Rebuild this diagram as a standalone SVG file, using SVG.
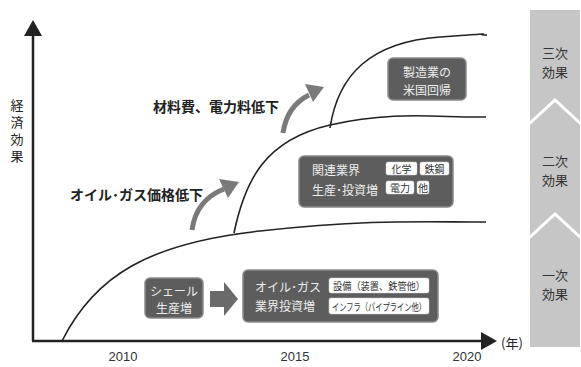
<svg xmlns="http://www.w3.org/2000/svg" width="581" height="367" viewBox="0 0 581 367">
<defs>
<style>
text{font-family:"Noto Sans CJK JP","Noto Sans",sans-serif;}
.lbl{font-size:14px;font-weight:bold;fill:#222;}
.yr{font-family:"Liberation Sans",Arial,sans-serif;font-size:13px;fill:#333;}
.box{fill:#5d5d5d;stroke:#8a8a8a;stroke-width:1.5;}
.bt{font-size:12px;fill:#eeeeee;dominant-baseline:central;}
.wb{fill:#ffffff;stroke:#cfcfcf;stroke-width:0.5;}
.wt{font-size:10px;fill:#333;dominant-baseline:central;text-anchor:middle;}
.curve{fill:none;stroke:#222;stroke-width:1.6;}
.garrow{fill:none;stroke:#7a7a7a;stroke-width:5;}
.side{fill:#c6c6c6;}
.st{font-size:13px;fill:#333;text-anchor:middle;dominant-baseline:central;}
</style>
</defs>
<rect width="581" height="367" fill="#ffffff"/>

<g id="sidebar">
<polygon class="side" points="530,10 580,10 580,121 555,98 530,121"/>
<polygon class="side" points="530,125 555,102 580,125 580,235 555,212 530,235"/>
<polygon class="side" points="530,239 555,216 580,239 580,347 530,347"/>
<text class="st" x="555" y="52">三次</text>
<text class="st" x="555" y="71">効果</text>
<text class="st" x="555" y="160">二次</text>
<text class="st" x="555" y="179">効果</text>
<text class="st" x="555" y="274">一次</text>
<text class="st" x="555" y="293">効果</text>
</g>

<g id="axes">
<line x1="33" y1="34" x2="33" y2="341" stroke="#222" stroke-width="2.5"/>
<polygon points="33,20 24,36 42,36" fill="#222"/>
<line x1="32" y1="341" x2="484" y2="341" stroke="#222" stroke-width="2.5"/>
<polygon points="497,341 481,332 481,350" fill="#222"/>
<text x="17" y="99" style="font-size:13px;fill:#222;writing-mode:vertical-rl;letter-spacing:4px">経済効果</text>
<text class="yr" x="123" y="361" text-anchor="middle">2010</text>
<text class="yr" x="295" y="361" text-anchor="middle">2015</text>
<text class="yr" x="467" y="361" text-anchor="middle">2020</text>
<text x="512" y="342" text-anchor="middle" dominant-baseline="central" style="font-size:13px;fill:#222">(年)</text>
</g>

<g id="connectors">
<path class="curve" d="M62,341 C95,275 150,243 260,231 S420,222 486,222"/>
<path class="curve" d="M234,233 C245,180 265,140 330,125 S440,118 486,117"/>
<path class="curve" d="M330,128 C338,75 370,42 440,37 S470,35 487,35"/>
<path class="garrow" d="M192,230 Q196,200 224,189"/>
<polygon points="239,182 219,179 228,198" fill="#7a7a7a"/>
<path class="garrow" d="M283,133 Q287,106 309,95"/>
<polygon points="324,87 305,84 313,102" fill="#7a7a7a"/>
<polygon points="210,291 224,291 224,282 238,299 224,316 224,307 210,307" fill="#6a6a6a"/>
</g>

<g id="label-oilgas">
<text class="lbl" x="70" y="200">オイル･ガス価格低下</text>
</g>
<g id="label-material">
<text class="lbl" x="153" y="112">材料費、電力料低下</text>
</g>

<g id="node-manufacturing">
<rect class="box" x="388" y="58" width="78" height="42" rx="5"/>
<text class="bt" x="427" y="71" text-anchor="middle">製造業の</text>
<text class="bt" x="427" y="89" text-anchor="middle">米国回帰</text>
</g>

<g id="node-related">
<rect class="box" x="299" y="156" width="154" height="51" rx="5"/>
<text class="bt" x="312" y="169">関連業界</text>
<text class="bt" x="312" y="189">生産･投資増</text>
<rect class="wb" x="386" y="162" width="31" height="13" rx="2"/>
<text class="wt" x="401.5" y="168.5">化学</text>
<rect class="wb" x="420" y="162" width="29" height="13" rx="2"/>
<text class="wt" x="434.5" y="168.5">鉄鋼</text>
<rect class="wb" x="386" y="181" width="28" height="13" rx="2"/>
<text class="wt" x="400" y="187.5">電力</text>
<rect class="wb" x="417" y="181" width="12" height="13" rx="2"/>
<text class="wt" x="423" y="187.5">他</text>
</g>

<g id="node-shale">
<rect class="box" x="145" y="278" width="58" height="40" rx="5"/>
<text class="bt" x="174" y="290" text-anchor="middle">シェール</text>
<text class="bt" x="174" y="307" text-anchor="middle">生産増</text>
</g>

<g id="node-oilgas-invest">
<rect class="box" x="243" y="270" width="195" height="52" rx="5"/>
<text class="bt" x="255" y="286">オイル･ガス</text>
<text class="bt" x="255" y="305">業界投資増</text>
<rect class="wb" x="329" y="278" width="100" height="15" rx="2"/>
<text class="wt" x="379" y="285.5" textLength="92" lengthAdjust="spacingAndGlyphs">設備（装置、鉄管他）</text>
<rect class="wb" x="329" y="298" width="100" height="16" rx="2"/>
<text class="wt" x="379" y="306" textLength="94" lengthAdjust="spacingAndGlyphs">インフラ（パイプライン他）</text>
</g>
</svg>
